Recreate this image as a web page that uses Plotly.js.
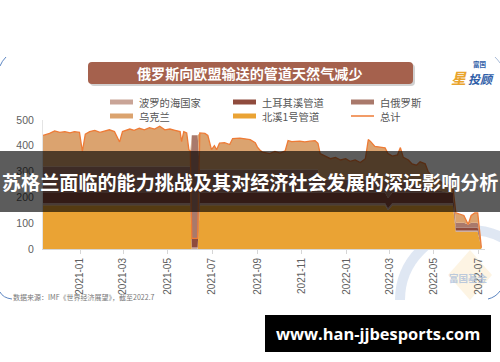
<!DOCTYPE html>
<html>
<head>
<meta charset="utf-8">
<script src="https://cdn.plot.ly/plotly-3.0.1.min.js"></script>
<style>html,body{margin:0;padding:0;background:#fff;}#chart{width:500px;height:362px;}</style>
</head>
<body>
<div id="chart"></div>
<script>
// ---- data (mcm/day) ----
const dates = [
"2020-11-11","2020-11-15","2020-11-20","2020-11-27","2020-12-04","2020-12-11","2020-12-18","2020-12-24","2020-12-31",
"2021-01-04","2021-01-08","2021-01-14","2021-01-21","2021-01-28","2021-02-04","2021-02-10","2021-02-17","2021-02-24","2021-02-28",
"2021-03-10","2021-03-16","2021-03-23","2021-03-30","2021-04-06","2021-04-13","2021-04-20","2021-04-27","2021-05-04","2021-05-11",
"2021-05-18","2021-05-20","2021-05-23","2021-05-27","2021-05-30","2021-06-01",
"2021-06-03","2021-06-07","2021-06-11",
"2021-06-14","2021-06-21","2021-06-25","2021-06-28","2021-06-30","2021-07-04","2021-07-07","2021-07-11","2021-07-18","2021-07-25","2021-07-29",
"2021-08-08","2021-08-15","2021-08-22","2021-08-29","2021-09-01","2021-09-04","2021-09-08","2021-09-18","2021-09-25","2021-10-02","2021-10-09",
"2021-10-13","2021-10-18","2021-10-29","2021-11-05","2021-11-12","2021-11-19","2021-11-23",
"2021-11-26","2021-12-03","2021-12-10","2021-12-17","2021-12-24","2021-12-31","2022-01-06","2022-01-13","2022-01-20","2022-01-27",
"2022-01-31","2022-02-03","2022-02-09","2022-02-16","2022-02-23","2022-02-27","2022-03-05","2022-03-12","2022-03-16",
"2022-03-20","2022-03-27","2022-04-01","2022-04-07","2022-04-12","2022-04-19","2022-04-23","2022-04-29","2022-05-06","2022-05-13","2022-05-20","2022-05-27",
"2022-05-31","2022-06-07","2022-06-11","2022-06-17","2022-06-21","2022-06-26","2022-06-30","2022-07-03","2022-07-05"
];
const nordStream = [
170,170,170,170,170,170,170,170,170,
170,170,170,170,170,170,170,170,170,170,
170,170,170,170,170,170,170,170,170,170,
170,170,170,170,170,170,
0,0,0,
170,170,170,170,170,170,170,170,170,170,170,
170,170,170,170,170,170,170,170,170,170,170,
170,170,170,170,170,170,170,
170,170,170,170,170,170,170,170,170,170,
170,170,170,170,170,150,170,170,170,
170,170,170,170,170,170,170,170,170,170,170,170,
67,67,67,67,67,67,67,30,0
];
const baltic = [
8,8,8,8,8,8,8,8,8,
8,8,8,8,8,8,8,8,8,8,
8,8,8,8,8,8,8,8,8,8,
8,8,8,8,8,8,
6,6,6,
8,8,8,8,8,8,8,8,8,8,8,
8,8,8,8,8,8,8,8,8,8,8,
8,8,8,8,8,8,8,
8,8,8,8,8,8,8,8,8,8,
8,8,8,8,8,8,8,8,8,
8,8,8,8,8,8,8,8,8,8,8,8,
5,5,5,5,5,5,5,3,0
];
const turkStream = [
42,42,42,42,42,42,42,42,42,
42,42,42,42,42,42,42,42,42,42,
42,42,42,42,42,42,42,42,42,42,
42,42,42,42,42,42,
35,35,35,
40,40,40,40,40,40,40,40,40,40,40,
40,40,40,40,40,40,40,40,40,40,40,
40,40,40,40,40,40,40,
40,40,40,40,40,40,40,40,40,40,
40,40,40,40,40,40,40,40,40,
40,40,40,40,40,40,40,40,40,40,40,40,
10,10,10,10,10,10,10,10,5
];
const belarus = [
100,100,100,100,100,100,100,100,100,
100,100,100,100,100,100,100,100,100,100,
100,100,100,100,100,100,100,100,100,100,
100,100,100,100,100,100,
400,400,400,
90,90,90,90,90,90,90,90,90,90,90,
90,90,90,90,90,90,90,90,90,90,90,
90,90,90,90,90,90,90,
50,50,50,50,50,50,50,50,50,50,
50,50,50,50,50,50,50,50,50,
40,40,35,35,30,30,20,15,10,5,0,0,
20,20,20,13,20,20,20,10,0
];
const ukraine = [
120,123,128,138,132,135,130,135,132,
58,125,135,140,132,138,142,135,95,135,
145,140,148,142,150,145,156,142,145,140,
135,96,135,130,65,60,
0,0,0,
142,140,132,92,77,92,77,102,104,97,120,
122,120,116,104,87,77,67,62,70,64,72,
112,108,110,107,110,112,102,
102,92,82,87,77,82,72,77,67,82,
156,149,130,127,124,122,92,97,125,
97,87,77,72,90,82,62,47,42,32,32,22,
38,33,28,0,28,38,38,7,0
];
const total = [
440,443,448,458,452,455,450,455,452,
378,445,455,460,452,458,462,455,415,455,
465,460,468,462,470,465,476,462,465,460,
455,416,455,450,385,380,
41,41,41,
450,448,440,400,385,400,385,410,412,405,428,
430,428,424,412,395,385,375,370,378,372,380,
420,416,418,415,418,420,410,
370,360,350,355,345,350,340,345,335,350,
424,417,398,395,392,370,360,365,393,
355,345,330,325,338,330,300,280,270,255,250,240,
140,135,130,95,130,140,140,60,5
];
const seriesNames = ["波罗的海国家","土耳其溪管道","白俄罗斯","乌克兰","北溪1号管道","总计"];
const seriesColors = ["#c9a497","#8f4b3d","#a9796b","#dba36f","#eaa334","#ee7b36"];
const chartTitle = "俄罗斯向欧盟输送的管道天然气减少";
const sourceNote = "数据来源：IMF《世界经济展望》，截至2022.7";
const overlayText = "苏格兰面临的能力挑战及其对经济社会发展的深远影响分析";
const siteText = "www.han-jjbesports.com";

// ---- geometry helpers (pixel -> paper) ----
const L = 43, T = 120, W = 442, H = 129;
const px = x => (x - L) / W;
const py = y => (T + H - y) / H;
const f = v => v.toFixed(5);
function rrect(x0, y0, x1, y1, r) {
  const X = v => f(px(v)), Y = v => f(py(v));
  return `M${X(x0+r)},${Y(y0)} L${X(x1-r)},${Y(y0)} Q${X(x1)},${Y(y0)} ${X(x1)},${Y(y0+r)} L${X(x1)},${Y(y1-r)} Q${X(x1)},${Y(y1)} ${X(x1-r)},${Y(y1)} L${X(x0+r)},${Y(y1)} Q${X(x0)},${Y(y1)} ${X(x0)},${Y(y1-r)} L${X(x0)},${Y(y0+r)} Q${X(x0)},${Y(y0)} ${X(x0+r)},${Y(y0)} Z`;
}
function pathPx(cmds) {
  return cmds.map(c => {
    let s = c[0];
    for (let i = 1; i < c.length; i += 2) s += (i > 1 ? ' ' : '') + f(px(c[i])) + ',' + f(py(c[i + 1]));
    return s;
  }).join(' ');
}

// ---- traces ----
const stackOrder = [
  {y: nordStream, i: 4},
  {y: baltic, i: 0},
  {y: turkStream, i: 1},
  {y: belarus, i: 2},
  {y: ukraine, i: 3}
];
const traces = stackOrder.map(s => ({
  type: 'scatter', mode: 'lines', x: dates, y: s.y, name: seriesNames[s.i],
  stackgroup: 'one', fillcolor: seriesColors[s.i],
  line: {width: 0, color: seriesColors[s.i], shape: 'linear'},
  hoverinfo: 'skip', showlegend: false
}));
traces.push({
  type: 'scatter', mode: 'lines', x: dates, y: total, name: seriesNames[5],
  line: {width: 1.3, color: seriesColors[5]}, hoverinfo: 'skip', showlegend: false
});

// ---- decorations ----
const shapes = [];
const annotations = [];
// watermark (bottom right)
const k = 0.5523 * 70;
shapes.push({type: 'path', xref: 'paper', yref: 'paper', layer: 'below',
  path: pathPx([['M', 400, 300], ['C', 400, 300 - k, 470 - k, 230, 470, 230], ['C', 470 + k, 230, 540, 300 - k, 540, 300]]),
  line: {color: 'rgba(196,212,234,0.55)', width: 10}});
shapes.push({type: 'path', xref: 'paper', yref: 'paper', layer: 'below',
  path: pathPx([['M', 470, 250], ['L', 492, 275], ['L', 470, 300], ['L', 448, 275], ['Z']]),
  fillcolor: 'rgba(252,236,208,0.6)', line: {width: 0}});
annotations.push({xref: 'paper', yref: 'paper', x: px(468), y: py(278), text: '<b>富国基金</b>', showarrow: false,
  font: {family: 'Noto Sans CJK SC', size: 9.5, color: 'rgba(170,190,218,0.8)'}, xanchor: 'center', yanchor: 'middle'});
// faint card edges
shapes.push({type: 'path', xref: 'paper', yref: 'paper', layer: 'above',
  path: pathPx([['M', 0, 66], ['Q', 2, 61, 6, 57]]), line: {color: '#5d86c2', width: 1}});
shapes.push({type: 'path', xref: 'paper', yref: 'paper', layer: 'above',
  path: pathPx([['M', 0, 292], ['Q', 3, 298, 12, 299]]), line: {color: '#5d86c2', width: 1}});
shapes.push({type: 'path', xref: 'paper', yref: 'paper', layer: 'above',
  path: pathPx([['M', 488, 299], ['Q', 496, 297, 500, 291]]), line: {color: '#5d86c2', width: 1}});
shapes.push({type: 'path', xref: 'paper', yref: 'paper', layer: 'above',
  path: pathPx([['M', 495, 57], ['Q', 498, 60, 500, 63]]), line: {color: '#a9bcd8', width: 1}});

// title banner
shapes.push({type: 'path', xref: 'paper', yref: 'paper', layer: 'above',
  path: rrect(90, 64, 415, 86, 4), fillcolor: 'rgba(0,0,0,0.18)', line: {width: 0}});
shapes.push({type: 'path', xref: 'paper', yref: 'paper', layer: 'above',
  path: rrect(88, 62, 413, 84, 4), fillcolor: '#a5614d', line: {width: 0}});
annotations.push({xref: 'paper', yref: 'paper', x: px(249.5), y: py(73), text: '<b>' + chartTitle + '</b>', showarrow: false,
  font: {family: 'Noto Sans CJK SC', size: 14.1, color: '#ffffff'}, xanchor: 'center', yanchor: 'middle'});
// logo
annotations.push({xref: 'paper', yref: 'paper', x: px(471), y: py(63.5), text: '<b>富国</b>', showarrow: false,
  font: {family: 'Noto Sans CJK SC', size: 6.5, color: '#2f5ea8'}, xanchor: 'left', yanchor: 'middle'});
annotations.push({xref: 'paper', yref: 'paper', x: px(449), y: py(77.5), text: '<b><i>星</i></b>', showarrow: false,
  font: {family: 'Noto Sans CJK SC', size: 15, color: '#e9a42c'}, xanchor: 'left', yanchor: 'middle'});
annotations.push({xref: 'paper', yref: 'paper', x: px(466), y: py(78.5), text: '<b><i>投顾</i></b>', showarrow: false,
  font: {family: 'Noto Sans CJK SC', size: 12, color: '#2f5ea8'}, xanchor: 'left', yanchor: 'middle'});

// legend
const legendPos = [
  {i: 0, x: 110, y: 102}, {i: 1, x: 233, y: 102}, {i: 2, x: 351, y: 102},
  {i: 3, x: 110, y: 116}, {i: 4, x: 233, y: 116}, {i: 5, x: 351, y: 116}
];
legendPos.forEach(p => {
  shapes.push({type: 'line', xref: 'paper', yref: 'paper', layer: 'above',
    x0: px(p.x), x1: px(p.x + 23), y0: py(p.y), y1: py(p.y),
    line: {color: seriesColors[p.i], width: p.i === 5 ? 1.5 : 5}});
  annotations.push({xref: 'paper', yref: 'paper', x: px(p.x + 27), y: py(p.y), text: seriesNames[p.i], showarrow: false,
    font: {family: 'Noto Sans CJK SC', size: 10.3, color: '#555'}, xanchor: 'left', yanchor: 'middle'});
});

// source note
annotations.push({xref: 'paper', yref: 'paper', x: px(11), y: py(297), text: sourceNote, showarrow: false,
  font: {family: 'Noto Sans CJK SC', size: 7, color: '#777'}, xanchor: 'left', yanchor: 'middle'});

// overlay banner
shapes.push({type: 'rect', xref: 'paper', yref: 'paper', layer: 'above',
  x0: px(0), x1: px(500), y0: py(212), y1: py(151), fillcolor: 'rgba(0,0,0,0.64)', line: {width: 0}});
annotations.push({xref: 'paper', yref: 'paper', x: px(250), y: py(181.5), text: '<b>' + overlayText + '</b>', showarrow: false,
  font: {family: 'Noto Sans CJK SC', size: 19.1, color: '#ffffff'}, xanchor: 'center', yanchor: 'middle'});

// site box
shapes.push({type: 'rect', xref: 'paper', yref: 'paper', layer: 'above',
  x0: px(265), x1: px(491), y0: py(352), y1: py(315), fillcolor: '#000000', line: {width: 0}});
annotations.push({xref: 'paper', yref: 'paper', x: px(378), y: py(333.5), text: '<b>' + siteText + '</b>', showarrow: false,
  font: {family: 'Open Sans, DejaVu Sans, sans-serif', size: 16.4, color: '#ffffff'}, xanchor: 'center', yanchor: 'middle'});

const layout = {
  width: 500, height: 362,
  margin: {l: L, r: 500 - L - W, t: T, b: 362 - T - H, pad: 0},
  paper_bgcolor: '#ffffff', plot_bgcolor: '#ffffff',
  showlegend: false,
  xaxis: {
    type: 'date', range: ['2020-11-11', '2022-07-10'],
    tick0: '2021-01-01', dtick: 'M2', tickformat: '%Y-%m', tickangle: -90,
    showgrid: false, zeroline: false, showline: true, linecolor: '#d6d6d6', linewidth: 1,
    ticks: 'outside', ticklen: 4, tickcolor: '#d6d6d6',
    tickfont: {family: 'Liberation Sans, Arial, sans-serif', size: 10, color: '#606060'}
  },
  yaxis: {
    range: [0, 500], tickvals: [0, 100, 200, 300, 400, 500],
    showgrid: false, zeroline: false, showline: true, linecolor: '#e4e4e4', linewidth: 1,
    ticks: '', ticklabelstandoff: 6,
    tickfont: {family: 'Liberation Sans, Arial, sans-serif', size: 10.5, color: '#606060'}
  },
  shapes: shapes,
  annotations: annotations
};

Plotly.newPlot('chart', traces, layout, {staticPlot: true, displayModeBar: false});
</script>
</body>
</html>
